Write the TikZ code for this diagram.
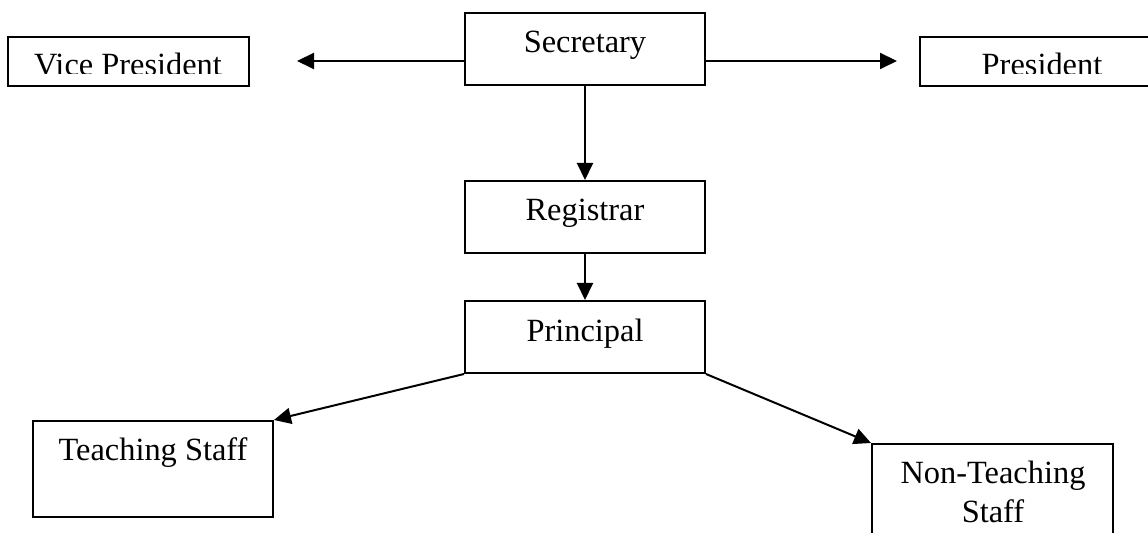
\documentclass[tikz,border=0pt]{standalone}
\usepackage{fontspec}
\setmainfont{Liberation Serif}
\usetikzlibrary{arrows.meta}
\begin{document}
\begin{tikzpicture}[x=0.5pt,y=-0.5pt,
  box/.style={draw=black,line width=1pt,rectangle,inner sep=0pt},
  lbl/.style={anchor=base,inner sep=0pt,font=\fontsize{16.2}{19}\selectfont},
  link/.style={line width=1pt,-{Triangle[length=8.5pt,width=8pt]}}]
\clip (0,0) rectangle (1148,533);
\fill[white] (0,0) rectangle (1148,533);
% boxes
\node[box,minimum width=120pt,minimum height=36pt] (sec) at (585,49) {};
\node[box,minimum width=120pt,minimum height=36pt] (reg) at (585,217) {};
\node[box,minimum width=120pt,minimum height=36pt] (pri) at (585,337) {};
\node[box,minimum width=120.5pt,minimum height=24.5pt] (vp) at (128.5,61.5) {};
\node[box,minimum width=122pt,minimum height=24.5pt] (pres) at (1042,61.5) {};
\node[box,minimum width=120pt,minimum height=48pt] (ts) at (153,469) {};
\node[box,minimum width=120.5pt,minimum height=55pt] (nts) at (992.5,499) {};
% labels
\node[lbl] (secT) at (585,53) {Secretary};
\node[lbl] (regT) at (585,221) {Registrar};
\node[lbl] (priT) at (585,342) {Principal};
\node[lbl] (tsT) at (153,461) {Teaching Staff};
\node[lbl] (ntsT1) at (993,484) {Non-Teaching};
\node[lbl] (ntsT2) at (993,523) {Staff};
\begin{scope}
  \clip (0,0) rectangle (1148,74);
  \node[lbl] (vpT) at (128,76) {Vice President};
  \node[lbl] (presT) at (1042,76) {President};
\end{scope}
% connectors
\coordinate (vpTip) at (297,61);
\coordinate (presTip) at (897,61);
\draw[link] (sec.west |- vpTip) -- (vpTip);
\draw[link] (sec.east |- presTip) -- (presTip);
\draw[link] (sec.south) -- (reg.north);
\draw[link] (reg.south) -- (pri.north);
\draw[link] (pri.south west) -- (ts.north east);
\draw[link] (pri.south east) -- (nts.north west);
\end{tikzpicture}
\end{document}
